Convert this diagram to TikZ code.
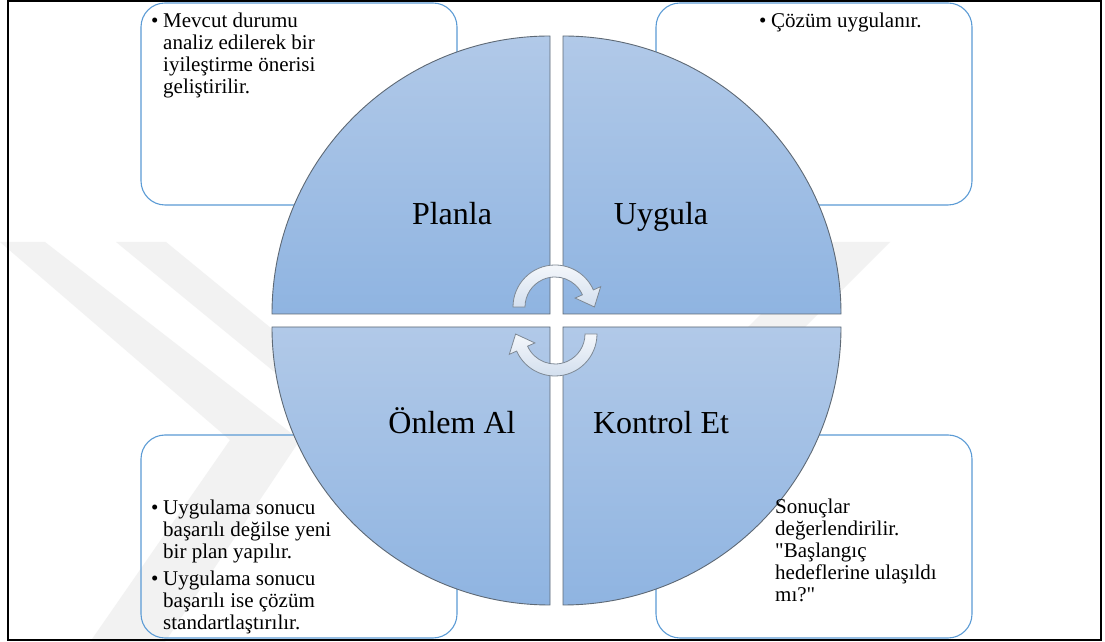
\documentclass[tikz,border=0pt]{standalone}
\usepackage{fontspec}
\setmainfont{Liberation Serif}
\usetikzlibrary{calc}
\definecolor{ink}     {HTML}{000000}
\definecolor{edgeblue}{HTML}{5B9BD5}
\definecolor{quadtop} {HTML}{B1C9E8}
\definecolor{quadbot} {HTML}{8FB4E1}
\definecolor{quadline}{HTML}{5E6975}
\definecolor{cyctop}  {HTML}{F4F7FB}
\definecolor{cycbot}  {HTML}{D3DFEE}
\definecolor{cycline} {HTML}{7D8894}
\definecolor{wmark}   {HTML}{F2F2F2}
\newcommand{\itm}{\makebox[12pt][l]{\textbullet}}
\newcommand{\hng}{\hspace*{12pt}}
\newcommand{\notelines}[1]{\parbox[t]{310pt}{\raggedright #1}}
\tikzset{
  notebox/.style ={draw=edgeblue, line width=1.1pt, rounded corners=24pt,
                   inner sep=0pt, minimum width=316pt},
  quad/.style    ={draw=quadline, line width=0.9pt,
                   top color=quadtop, bottom color=quadbot},
  cycarrow/.style={draw=cycline, line width=0.8pt,
                   top color=cyctop, bottom color=cycbot},
  phase/.style   ={font=\fontsize{32}{36}\selectfont, anchor=base, inner sep=0pt},
  note/.style    ={font=\fontsize{21}{22}\selectfont, anchor=base west, inner sep=0pt},
  wm/.style      ={fill=wmark, draw=none},
}

\begin{document}
\begin{tikzpicture}[x=1pt,y=1pt]
  \useasboundingbox (0,0) rectangle (1105,642);
  \fill[white] (0,0) rectangle (1105,642);

  % faint watermark bands
  \fill[wm] (0,400) -- (45,400) -- (300,202) -- (165,0) -- (90,0) -- (230,202) -- cycle;
  \fill[wm] (116,400) -- (166,400) -- (383,222) -- (333,222) -- cycle;
  \fill[wm] (833,400) -- (890,400) -- (712,222) -- (655,222) -- cycle;

  % note boxes
  \node[notebox, minimum height=202pt] (planbox)    at (299,538)   {};
  \node[notebox, minimum height=202pt] (uygulabox)  at (814,538)   {};
  \node[notebox, minimum height=203pt] (onlembox)   at (299,105.5) {};
  \node[notebox, minimum height=203pt] (kontrolbox) at (814,105.5) {};

  % four quarters of the cycle
  \draw[quad] (550,328) -- (272,328) arc[start angle=180, end angle=90,  radius=278] -- cycle;
  \draw[quad] (563,328) -- (563,606) arc[start angle=90,  end angle=0,   radius=278] -- cycle;
  \draw[quad] (550,315) -- (550,37)  arc[start angle=270, end angle=180, radius=278] -- cycle;
  \draw[quad] (563,315) -- (841,315) arc[start angle=0,   end angle=-90, radius=278] -- cycle;

  % circular arrows
  \coordinate (c1) at (555,335);
  \coordinate (c2) at (555,308);
  \draw[cycarrow] ($(c1)+(180:30)$) -- ($(c1)+(180:42)$)
      arc[start angle=180, end angle=24, radius=42]
      -- ($(c1)+(24:50)$) -- ($(c1)+(24:36)+(-66:16)$) -- ($(c1)+(24:22)$)
      -- ($(c1)+(24:30)$) arc[start angle=24, end angle=180, radius=30] -- cycle;
  \draw[cycarrow] ($(c2)+(0:30)$) -- ($(c2)+(0:42)$)
      arc[start angle=0, end angle=-156, radius=42]
      -- ($(c2)+(-156:50)$) -- ($(c2)+(-156:36)+(114:16)$) -- ($(c2)+(-156:22)$)
      -- ($(c2)+(-156:30)$) arc[start angle=-156, end angle=0, radius=30] -- cycle;

  % phase labels
  \node[phase] (planla)  at (452,417) {Planla};
  \node[phase] (uygula)  at (661,417) {Uygula};
  \node[phase] (onlem)   at (452,208) {Önlem Al};
  \node[phase] (kontrol) at (661,208) {Kontrol Et};

  % notes
  \node[note] (plannote) at (151,614) {\notelines{%
      \itm Mevcut durumu\\
      \hng analiz edilerek bir\\
      \hng iyileştirme önerisi\\
      \hng geliştirilir.}};
  \node[note] (uygulanote) at (759,614) {\notelines{\itm Çözüm uygulanır.}};
  \node[note] (onlemnote) at (151,127) {\notelines{%
      \itm Uygulama sonucu\\
      \hng başarılı değilse yeni\\
      \hng bir plan yapılır.\\[5pt]
      \itm Uygulama sonucu\\
      \hng başarılı ise çözüm\\
      \hng standartlaştırılır.}};
  \node[note] (kontrolnote) at (775,128) {\notelines{%
      Sonuçlar\\
      değerlendirilir.\\
      \textquotedbl Başlangıç\\
      hedeflerine ulaşıldı\\
      mı?\textquotedbl}};

  % outer frame
  \draw[ink, line width=2pt] (8,2) rectangle (1101,641);
\end{tikzpicture}
\end{document}
